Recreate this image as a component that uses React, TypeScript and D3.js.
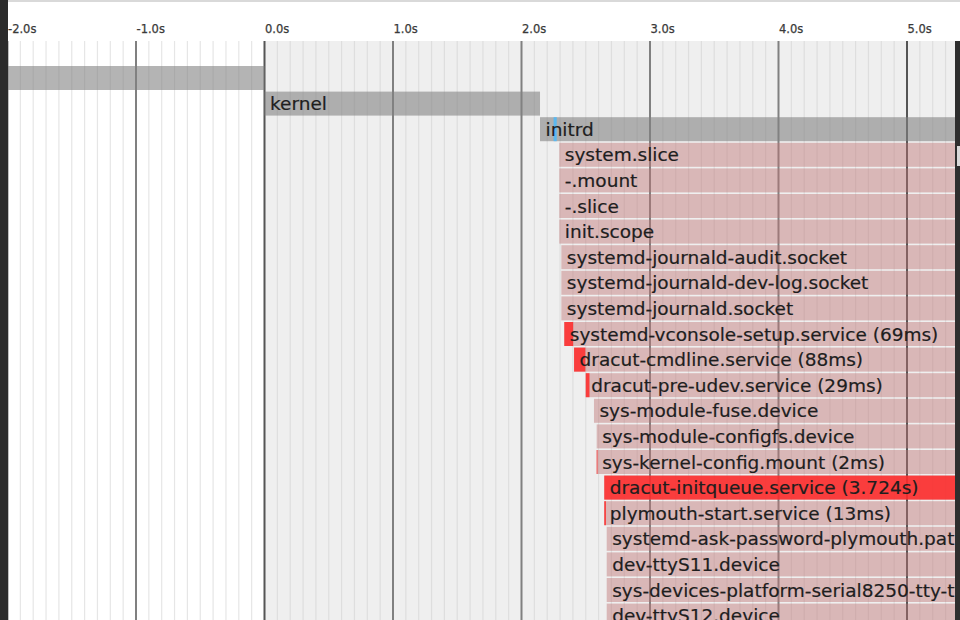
import React from "react";
import * as d3 from "d3";

// ---- data (seconds) ----
const bootPhases = ["", "kernel", "initrd"];
const bootStarts = [-2.0, 0.0, 2.144];
const bootEnds = [0.0, 2.144, 6.5];

const unitNames = [
  "system.slice",
  "-.mount",
  "-.slice",
  "init.scope",
  "systemd-journald-audit.socket",
  "systemd-journald-dev-log.socket",
  "systemd-journald.socket",
  "systemd-vconsole-setup.service",
  "dracut-cmdline.service",
  "dracut-pre-udev.service",
  "sys-module-fuse.device",
  "sys-module-configfs.device",
  "sys-kernel-config.mount",
  "dracut-initqueue.service",
  "plymouth-start.service",
  "systemd-ask-password-plymouth.path",
  "dev-ttyS11.device",
  "sys-devices-platform-serial8250-tty-ttyS11.device",
  "dev-ttyS12.device",
];
const unitStarts = [
  2.294, 2.294, 2.294, 2.294, 2.31, 2.31, 2.31, 2.333, 2.409, 2.5, 2.564,
  2.585, 2.585, 2.644, 2.644, 2.663, 2.663, 2.663, 2.663,
];
const unitEnd = 6.5;
// activation time in ms (0 = none shown)
const unitActivatingMs = [
  0, 0, 0, 0, 0, 0, 0, 69, 88, 29, 0, 0, 2, 3724, 13, 0, 0, 0, 0,
];

const generatorStart = 2.25;
const generatorEnd = 2.274;

const tickValues = [-2, -1, 0, 1, 2, 3, 4, 5];

const W = 960;
const H = 620;

function fmtDur(ms: number) {
  return ms < 1000 ? `${ms}ms` : `${(ms / 1000).toFixed(3)}s`;
}

export default function App() {
  const x = d3.scaleLinear().domain([-2, 5]).range([7.5, 907]);
  const gridTop = 41;
  const plotLeft = 8;
  const plotRight = 955;
  const rowTop0 = 66;
  const pitch = 25.6;
  const barH = 24;

  const minor = d3.range(-21, 60).map((i) => i / 10);
  const minorTicks = minor.filter((v) => Math.abs(v - Math.round(v)) > 1e-6);
  const font = "'DejaVu Sans', Verdana, sans-serif";

  const rowY = (i: number) => rowTop0 + i * pitch;

  return (
    <div style={{ position: "absolute", left: 0, top: 0, width: W, height: H, overflow: "hidden" }}>
      <svg width={W} height={H} style={{ display: "block" }}>
        <rect x={0} y={0} width={W} height={H} fill="#fff" />
        <rect x={0} y={0} width={W} height={2} fill="#d9d9d9" />
        <svg x={plotLeft} y={0} width={plotRight - plotLeft} height={H} viewBox={`${plotLeft} 0 ${plotRight - plotLeft} ${H}`}>
          {/* background for t >= 0 */}
          <rect
            x={x(0)}
            y={gridTop}
            width={plotRight - x(0)}
            height={H - gridTop}
            fill="#efefef"
          />
          {/* minor grid */}
          {minorTicks.map((v) => (
            <line
              key={"m" + v}
              x1={x(v)}
              x2={x(v)}
              y1={gridTop}
              y2={H}
              stroke={v < 0 ? "#e6e6e6" : "#dedede"}
              strokeWidth={1.2}
            />
          ))}
          {/* major grid */}
          {tickValues.map((v) => (
            <line
              key={"M" + v}
              x1={x(v)}
              x2={x(v)}
              y1={gridTop}
              y2={H}
              stroke={v === 0 || v === 5 ? "#555" : "#808080"}
              strokeWidth={2}
            />
          ))}
          {/* tick labels */}
          {tickValues.map((v) => (
            <text
              key={"t" + v}
              x={x(v) + 0.5}
              y={33}
              fontFamily={font}
              fontSize={11.5}
              fill="#3a3a3a"
              stroke="#3a3a3a"
              strokeWidth={0.25}
            >
              {`${v.toFixed(1)}s`}
            </text>
          ))}
          {/* boot phase bars */}
          {bootPhases.map((name, i) => (
            <rect
              key={"b" + i}
              x={x(bootStarts[i])}
              y={rowY(i)}
              width={x(bootEnds[i]) - x(bootStarts[i])}
              height={barH}
              fill="rgb(130,130,130)"
              fillOpacity={0.6}
            />
          ))}
          <rect
            x={x(generatorStart)}
            y={rowY(2)}
            width={x(generatorEnd) - x(generatorStart)}
            height={barH}
            fill="#5ab8f0"
          />
          {/* unit bars */}
          {unitNames.map((name, i) => {
            const r = i + 3;
            const s = unitStarts[i];
            const act = unitActivatingMs[i];
            return (
              <g key={"u" + i}>
                <rect
                  x={x(s)}
                  y={rowY(r)}
                  width={x(unitEnd) - x(s)}
                  height={barH}
                  fill="rgb(190,115,115)"
                  fillOpacity={0.45}
                />
                {act > 0 && (
                  <rect
                    x={x(s)}
                    y={rowY(r)}
                    width={Math.max(x(s + act / 1000) - x(s), 0.8)}
                    height={barH}
                    fill="rgb(255,40,40)"
                    fillOpacity={0.85}
                  />
                )}
              </g>
            );
          })}
          {/* labels */}
          {bootPhases.map((name, i) =>
            name ? (
              <text
                key={"bl" + i}
                x={x(bootStarts[i]) + 5.5}
                y={rowY(i) + 18.5}
                fontFamily={font}
                fontSize={18.5}
                fill="#1e1e1e"
                stroke="#1e1e1e"
                strokeWidth={0.2}
              >
                {name}
              </text>
            ) : null
          )}
          {unitNames.map((name, i) => {
            const act = unitActivatingMs[i];
            const label = act > 0 ? `${name} (${fmtDur(act)})` : name;
            return (
              <text
                key={"ul" + i}
                x={x(unitStarts[i]) + 5.5}
                y={rowY(i + 3) + 18.5}
                fontFamily={font}
                fontSize={18.5}
                fill="#1e1e1e"
                stroke="#1e1e1e"
                strokeWidth={0.2}
              >
                {label}
              </text>
            );
          })}
        </svg>
        {/* window edges */}
        <rect x={0} y={0} width={8} height={H} fill="#2b2b2b" />
        <rect x={plotRight} y={gridTop} width={W - plotRight} height={H - gridTop} fill="#2e2e2e" />
        <rect x={957} y={146} width={3} height={20} fill="#d8d8d8" />
      </svg>
    </div>
  );
}
